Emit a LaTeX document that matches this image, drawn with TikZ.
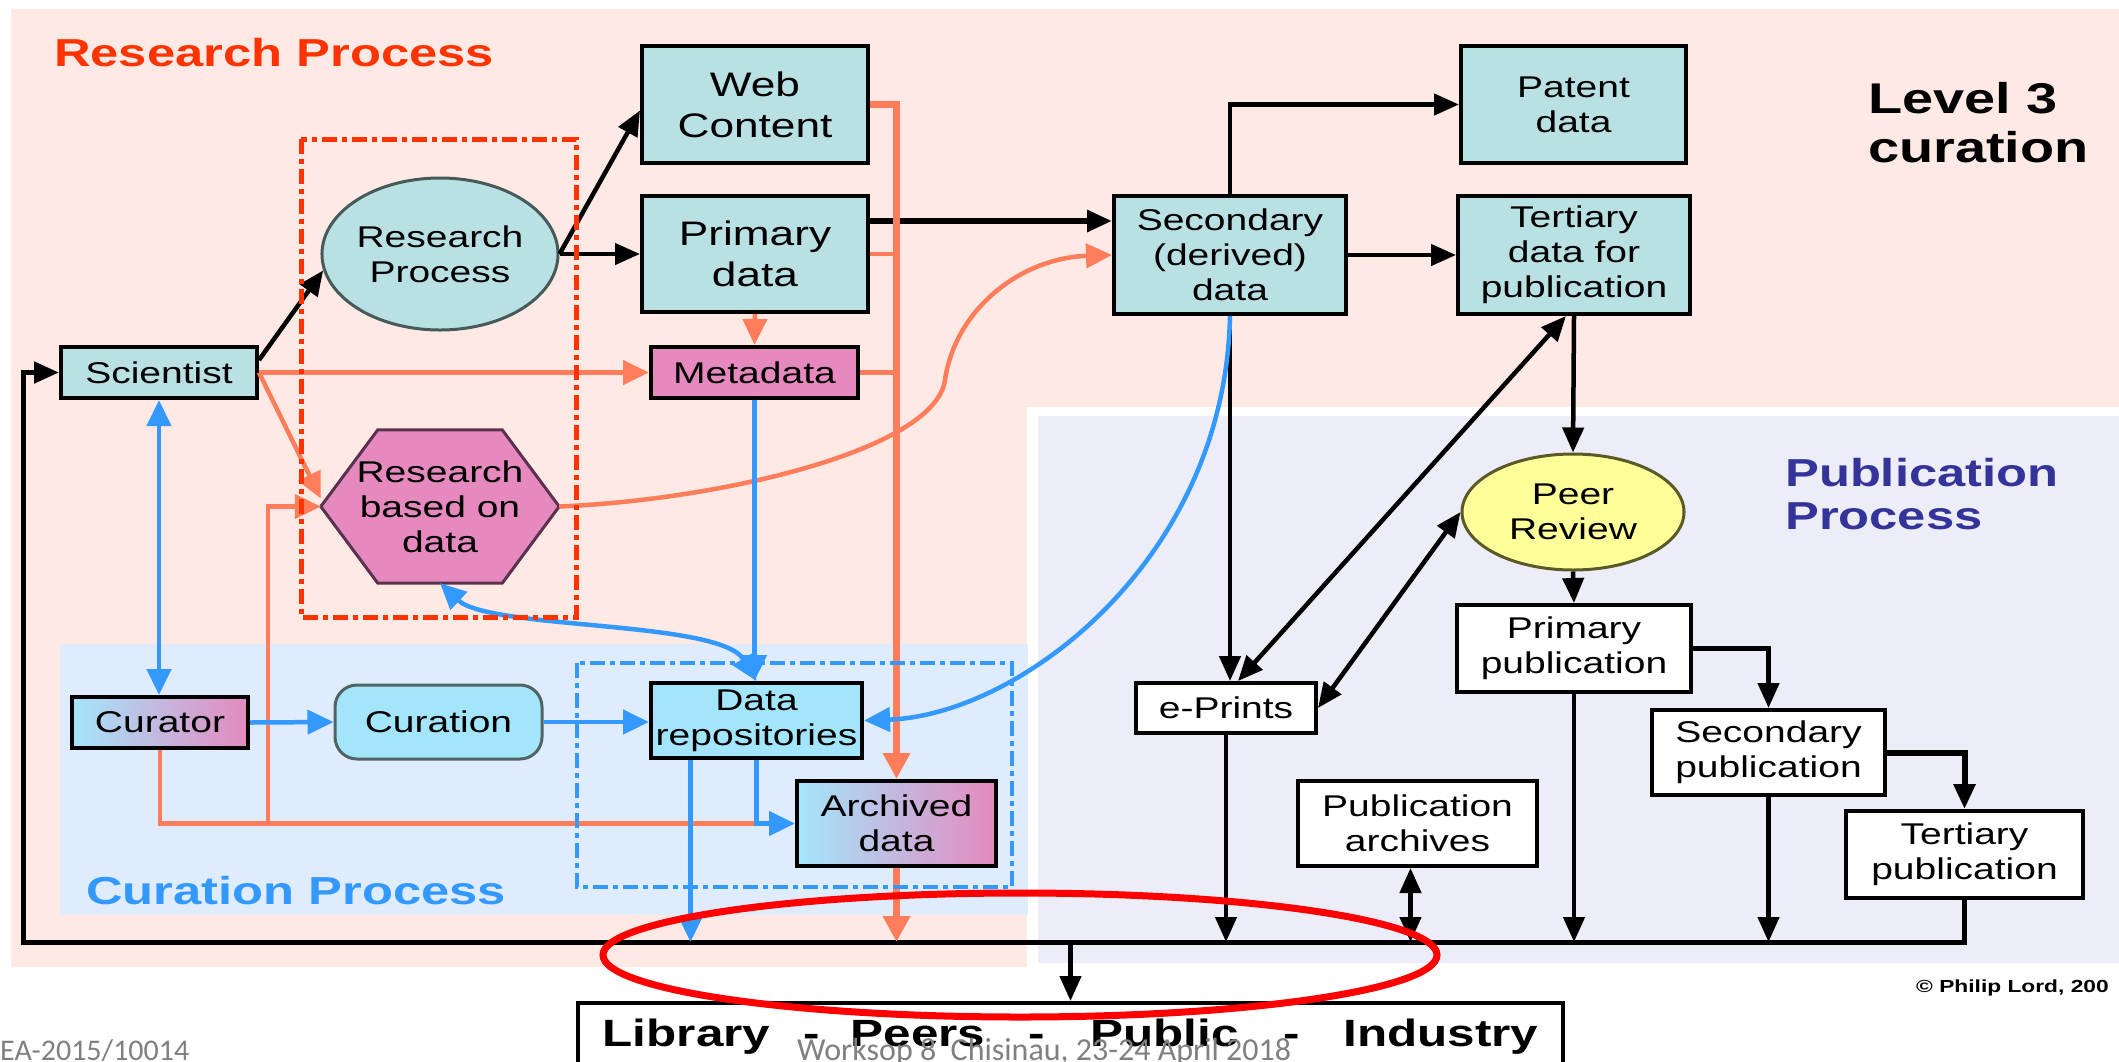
\documentclass[tikz,border=0pt]{standalone}
\usepackage{fontspec}
\setmainfont{Liberation Sans}[FakeStretch=1.3]
\newfontfamily\carlfont{Carlito}
\usetikzlibrary{arrows.meta,shapes.geometric,calc}
\pgfdeclarelayer{bg}
\pgfsetlayers{bg,main}
\definecolor{pinkbg}{RGB}{255,233,228}
\definecolor{lavbg}{RGB}{237,237,248}
\definecolor{curbg}{RGB}{223,236,253}
\definecolor{tealc}{RGB}{185,224,227}
\definecolor{magc}{RGB}{229,137,191}
\definecolor{cyanc}{RGB}{163,230,252}
\definecolor{yellowc}{RGB}{255,255,153}
\definecolor{orangec}{RGB}{255,125,90}
\definecolor{bluec}{RGB}{51,153,255}
\definecolor{redc}{RGB}{255,51,0}
\definecolor{pubblue}{RGB}{51,51,153}
\definecolor{ellb}{RGB}{70,90,90}
\definecolor{peerb}{RGB}{90,90,40}
\definecolor{hexb}{RGB}{90,50,80}
\definecolor{curb}{RGB}{80,100,100}
\definecolor{grayt}{RGB}{128,128,128}
\newcommand{\mynfont}{\fontsize{30}{35}\selectfont}
\newcommand{\mybigfont}{\fontsize{34}{41}\selectfont}
\begin{document}
\begin{tikzpicture}[x=1pt,y=-1pt,
  tbox/.style={rectangle, draw=black, line width=4pt, fill=tealc, inner sep=0pt, align=center, font=\mynfont, text=black},
  wbox/.style={tbox, fill=white},
  blk/.style={draw=black, line width=4.5pt, -{Triangle[length=25pt,width=21pt]}},
  blkd/.style={draw=black, line width=4.5pt, {Triangle[length=25pt,width=21pt]}-{Triangle[length=25pt,width=21pt]}},
  blkthick/.style={blk, line width=6pt},
  busline/.style={draw=black, line width=5pt, -{Triangle[length=25pt,width=21pt]}},
  org/.style={draw=orangec, line width=4.5pt, -{Triangle[length=26pt,width=24pt]}},
  orgplain/.style={draw=orangec, line width=4.5pt},
  orgthick/.style={draw=orangec, line width=7pt, -{Triangle[length=26pt,width=26pt]}},
  blu/.style={draw=bluec, line width=4.5pt, -{Triangle[length=26pt,width=24pt]}},
  blud/.style={draw=bluec, line width=4.5pt, {Triangle[length=26pt,width=24pt]}-{Triangle[length=26pt,width=24pt]}},
  reddash/.style={draw=redc, line width=5pt, dash pattern=on 15pt off 5pt on 5pt off 5pt},
  bluedash/.style={draw=bluec, line width=4.5pt, dash pattern=on 15pt off 5pt on 5pt off 5pt},
  ttl/.style={anchor=base west, inner sep=0pt}
]
\useasboundingbox (0,0) rectangle (2119,1061);

% regions
\begin{pgfonlayer}{bg}
\fill[white] (0,0) rectangle (2119,1061);
\fill[pinkbg] (11,9) rectangle (2119,967);
\fill[white] (1027,407) rectangle (2119,975);
\fill[lavbg] (1038,416) rectangle (2119,963);
\fill[curbg] (60,644) rectangle (1028,915);
\end{pgfonlayer}

% titles
\node[ttl, font=\fontsize{39}{44}\selectfont\bfseries, text=redc] (t1) at (54,66) {Research Process};
\node[ttl, font=\fontsize{43}{48}\selectfont\bfseries] (l1) at (1868,113) {Level 3};
\node[ttl, font=\fontsize{43}{48}\selectfont\bfseries] (l2) at (1868,162) {curation};
\node[ttl, font=\fontsize{39}{44}\selectfont\bfseries, text=pubblue] (p1) at (1785,486) {Publication};
\node[ttl, font=\fontsize{39}{44}\selectfont\bfseries, text=pubblue] (p2) at (1785,529) {Process};
\node[ttl, font=\fontsize{39}{44}\selectfont\bfseries, text=bluec] (c1) at (86,904) {Curation Process};

% nodes
\node[tbox, minimum width=196pt, minimum height=51pt] (sci) at (159,372.5) {Scientist};
\node[ellipse, draw=ellb, fill=tealc, line width=3pt, minimum width=200pt, minimum height=152pt, inner sep=0pt, align=center, font=\mynfont] (rp) at (440,254) {Research\\Process};
\node[tbox, font=\mybigfont, minimum width=226pt, minimum height=117pt] (web) at (755,104.5) {Web\\Content};
\node[tbox, font=\mybigfont, minimum width=226pt, minimum height=116pt] (prim) at (755,254) {Primary\\data};
\node[tbox, fill=magc, minimum width=207pt, minimum height=51pt] (meta) at (754.5,372.5) {Metadata};
\node[tbox, minimum width=232pt, minimum height=118pt] (sec) at (1230,255) {Secondary\\(derived)\\data};
\node[tbox, minimum width=225pt, minimum height=117pt] (pat) at (1573.5,104.5) {Patent\\data};
\node[tbox, minimum width=232pt, minimum height=118pt] (ter) at (1574,255) {Tertiary\\data for\\publication};
\node[font=\mynfont, align=center, minimum width=238pt, minimum height=153pt, inner sep=0pt] (hex) at (440,506.5) {Research\\based on\\data};
\begin{pgfonlayer}{bg}
\draw[draw=hexb, fill=magc, line width=3pt] (hex.west) -- ([xshift=57pt]hex.north west) -- ([xshift=-57pt]hex.north east) -- (hex.east) -- ([xshift=-57pt]hex.south east) -- ([xshift=57pt]hex.south west) -- cycle;
\end{pgfonlayer}
\node[tbox, left color=cyanc, right color=magc, minimum width=176pt, minimum height=51pt] (cur) at (160,722.5) {Curator};
\node[draw=curb, fill=cyanc, rounded corners=22pt, line width=3pt, minimum width=207pt, minimum height=74pt, font=\mynfont, inner sep=0pt] (curation) at (438.5,722) {Curation};
\node[tbox, fill=cyanc, minimum width=211pt, minimum height=75pt] (drep) at (756.5,720.5) {Data\\repositories};
\node[tbox, left color=cyanc, right color=magc, minimum width=199pt, minimum height=85pt] (arch) at (896.5,823.5) {Archived\\data};
\node[wbox, minimum width=180pt, minimum height=50pt] (eprints) at (1226,708) {e-Prints};
\node[ellipse, draw=peerb, fill=yellowc, line width=3pt, minimum width=222pt, minimum height=116pt, inner sep=0pt, align=center, font=\mynfont] (peer) at (1573,512) {Peer\\Review};
\node[wbox, minimum width=234pt, minimum height=87pt] (ppub) at (1574,648.5) {Primary\\publication};
\node[wbox, minimum width=233pt, minimum height=85pt] (spub) at (1768.5,752.5) {Secondary\\publication};
\node[wbox, minimum width=237pt, minimum height=87pt] (tpub) at (1964.5,854.5) {Tertiary\\publication};
\node[wbox, minimum width=239pt, minimum height=85pt] (parch) at (1417.5,823.5) {Publication\\archives};
\node[draw=black, line width=3.5pt, fill=white, minimum width=985pt, minimum height=68pt, anchor=north, inner sep=0pt, font=\fontsize{38}{44}\selectfont\bfseries] (lib) at (1070.5,1001) {Library\hspace{33pt}-\hspace{31pt}Peers\hspace{43pt}-\hspace{46pt}Public\hspace{45pt}-\hspace{43pt}Industry};

\coordinate (busL) at (23,942);
\coordinate (ojoin) at (268,823.5);
\coordinate (b7s) at ([xshift=-66pt]drep.south);

% black connectors
\draw[blk] ([yshift=-15pt]sci.north east) -- (rp.188);
\draw[blk] (rp.east) -- ([yshift=-6pt]web.west);
\draw[blk] (rp.east) -- (prim.west);
\draw[blkthick] ([yshift=33pt]prim.east) -- ([yshift=34pt]sec.west);
\draw[blk] (sec.north) |- (pat.west);
\draw[blk] (sec.east) -- (ter.west);
\draw[blk] (ter.south) -- (peer.north);
\draw[blk] (peer.south) -- (ppub.north);
\draw[blkd] ([xshift=-8pt]ter.south) -- ([xshift=12pt]eprints.north);
\draw[blkd] (eprints.east) -- (peer.west);
\draw[blk] (sec.south) -- (sec.south |- eprints.north);
\draw[blk] (ppub.east) -| (spub.north);
\draw[blkthick] (spub.east) -| (tpub.north);
\draw[blk] (eprints.south) -- (eprints.south |- busL);
\draw[blk] (ppub.south) -- (ppub.south |- busL);
\draw[blk] (spub.south) -- (spub.south |- busL);
\draw[blkd] ([xshift=-7pt]parch.south) -- ([xshift=-7pt]parch.south |- busL);
\draw[busline] (tpub.south) |- (busL) |- (sci.west);
\draw[blk] (lib.north |- busL) -- (lib.north);

% orange connectors
\draw[org] (sci.east) -- (meta.west);
\draw[org] (sci.east) -- ([yshift=8pt]hex.west);
\draw[orgplain] (cur.south) |- (drep.south |- arch.west);
\draw[org] (ojoin) |- (hex.west);
\draw[orgthick] (web.east) -| (arch.north);
\draw[orgplain] (prim.east) -- (prim.east -| arch.north);
\draw[orgplain] (meta.east) -- (meta.east -| arch.north);
\draw[org] (prim.south) -- (meta.north);
\draw[orgthick] (arch.south) -- (arch.south |- busL);
\draw[org] (hex.east) .. controls (720,500) and (935,450) .. (945,380) .. controls (955,310) and (1020,258) .. (sec.west);

% blue connectors
\draw[blud] (sci.south) -- (sci.south |- cur.north);
\draw[blu] (cur.east) -- (curation.west);
\draw[blu] (curation.east) -- (curation.east -| drep.west);
\draw[blu] (meta.south) -- (meta.south |- drep.north);
\draw[blud] (hex.south) .. controls (490,630) and (720,620) .. (drep.north);
\draw[blu] (sec.south) .. controls (1225,560) and (1020,715) .. (drep.east);
\draw[blu] (b7s) -- (b7s |- busL);
\draw[blu] (drep.south) |- (arch.west);

% dashed frames
\draw[reddash] (301,139) rectangle (576,617);
\draw[bluedash] (577,663) rectangle (1012,887);

% footer texts
\node[ttl, font=\fontsize{17.5}{21}\selectfont\bfseries] (cpr) at (1916,992) {© Philip Lord, 200};
\node[anchor=base west, inner sep=0pt, font=\carlfont\fontsize{30}{34}\selectfont, text=grayt] (ea) at (0,1060) {EA-2015/10014};
\draw[red, line width=7pt] (1020,955) ellipse [x radius=417pt, y radius=62pt];
\node[ttl, font=\carlfont\fontsize{32}{36}\selectfont, text=grayt] (ws) at (797,1060) {Worksop 8\ \ Chisinau, 23-24 April 2018};
\end{tikzpicture}
\end{document}
